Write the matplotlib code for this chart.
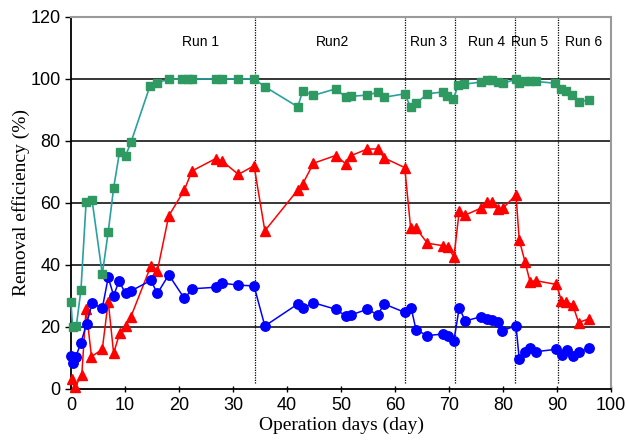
"""Removal efficiency over operation days, six runs."""

import matplotlib.pyplot as plt

# green squares (top series)
days_g = [0.0, 0.3, 1.0, 1.85, 2.8, 3.9, 5.8, 6.9, 7.9, 9.0, 10.1, 11.1,
          14.6, 16.0, 18.1, 20.6, 21.6, 22.5, 26.8, 28.0, 30.9, 33.9,
          35.9, 42.0, 42.9, 44.9, 49.0, 50.9, 51.9, 54.9, 56.8, 58.0, 61.8,
          62.9, 63.9, 66.0, 68.8, 69.7, 70.8, 71.7, 72.8, 75.9, 77.0, 77.9,
          79.1, 80.0, 82.4, 83.0, 84.1, 85.0, 86.1, 89.7, 90.8, 91.7, 92.8,
          94.0, 96.0]
eff_g = [28, 20, 20.4, 32, 60.2, 61, 37, 50.7, 64.8, 76.5, 75.2, 79.5,
         97.6, 98.8, 99.9, 100, 100, 100, 100, 100, 100, 100,
         97.5, 91, 96.1, 94.7, 96.8, 94.1, 94.4, 94.8, 95.7, 94.1, 95.2,
         90.8, 92.1, 95.2, 95.8, 94.6, 93.5, 98, 98.3, 99, 99.7, 99.5,
         98.9, 98.6, 99.9, 98.6, 99.2, 99.2, 99.2, 98.6, 96.7, 96.2, 94.8,
         92.7, 93.2]

# red triangles
days_r = [0.1, 0.7, 2.0, 2.8, 3.8, 5.8, 6.9, 7.9, 9.0, 10.1, 11.1, 14.8,
          16.0, 18.1, 21.0, 22.4, 26.8, 28.0, 31.0, 33.9, 35.9, 42.0, 42.9,
          44.9, 49.0, 50.9, 51.9, 54.9, 56.8, 58.0, 61.8, 62.9, 63.9, 66.0,
          68.9, 69.8, 70.9, 71.9, 73.0, 75.9, 77.0, 77.9, 79.0, 80.0, 82.4,
          83.0, 84.1, 85.0, 86.1, 89.9, 90.8, 91.7, 92.9, 94.0, 96.0]
eff_r = [3.1, 0.5, 4.5, 25.7, 10.4, 12.8, 28.2, 11.5, 17.9, 20.4, 23.3, 39.7,
         38.1, 55.8, 64.2, 70.3, 74.3, 73.5, 69.2, 72, 51, 64.2, 66.1,
         72.8, 75.3, 72.6, 75.3, 77.4, 77.4, 74.5, 71.4, 51.8, 51.8, 47,
         46.2, 45.9, 42.5, 57.5, 56.1, 58.3, 60.4, 60.4, 57.9, 58.3, 62.6,
         48.1, 40.8, 34.6, 34.9, 33.7, 28.5, 28.2, 27.1, 21.4, 22.7]

# blue circles
days_b = [0.0, 0.3, 0.9, 1.8, 2.9, 3.9, 5.8, 6.9, 7.9, 8.9, 10.1, 11.1, 14.8,
          16.0, 18.1, 21.0, 22.5, 26.8, 28.0, 31.0, 33.9, 35.9, 42.0, 42.9,
          44.9, 49.0, 50.9, 51.9, 54.9, 56.8, 58.0, 61.8, 63.0, 63.9, 66.0,
          68.8, 69.8, 70.9, 71.9, 73.0, 75.9, 77.0, 77.9, 79.0, 79.9, 82.4,
          83.0, 84.0, 85.0, 86.1, 89.9, 90.9, 91.9, 92.9, 94.0, 96.0]
eff_b = [10.6, 8.5, 10.4, 14.7, 21, 27.6, 26, 36, 30.1, 34.8, 30.8, 31.6, 35,
         30.8, 36.8, 29.2, 32.3, 32.8, 34.1, 33.5, 33.2, 20.3, 27.4, 26,
         27.8, 25.7, 23.5, 23.9, 25.7, 23.9, 27.4, 24.7, 26, 19, 17.2,
         17.7, 17.2, 15.6, 26.2, 21.9, 23.3, 22.5, 22.3, 21.7, 18.8, 20.4,
         9.7, 12, 13.1, 12, 12.8, 11, 12.4, 10.6, 11.8, 13.3]

run_bounds = [34.1, 61.9, 71.1, 82.2, 90.1]
run_names = ["Run 1", "Run2", "Run 3", "Run 4", "Run 5", "Run 6"]
run_label_x = [23.9, 48.5, 66.3, 77.0, 85.0, 95.0]

fig = plt.figure(figsize=(6.28, 4.46), dpi=100)
ax = fig.add_axes([0.113, 0.128, 0.860, 0.834])

for y in [20, 40, 60, 80, 100]:
    ax.axhline(y, color="black", lw=1.1, zorder=1)
for xb in run_bounds:
    ax.axvline(xb, ymin=0.015, ymax=1, color="black", lw=0.9,
               linestyle=(0, (1, 1)), zorder=1)

ax.plot(days_g, eff_g, "-", color="#2aa0a0", lw=1.2, zorder=3, clip_on=False)
ax.plot(days_g, eff_g, "s", color="#2e9a62", ms=6.3, zorder=4, clip_on=False)
ax.plot(days_r, eff_r, "-^", color="#ff0000", lw=1.1, ms=6.8, zorder=3,
        clip_on=False)
ax.plot(days_b, eff_b, "-o", color="#0000ff", lw=1.1, ms=6.8, zorder=3,
        clip_on=False)

for name, xl in zip(run_names, run_label_x):
    ax.text(xl, 112, name, ha="center", va="center", fontsize=10,
            family="Liberation Sans")

ax.set_xlim(0, 100)
ax.set_ylim(0, 120)
ax.set_xticks(range(0, 101, 10))
ax.set_yticks(range(0, 121, 20))
ax.tick_params(axis="both", labelsize=13, length=4, width=1)
ax.tick_params(axis="x", direction="inout")
for lab in ax.get_xticklabels() + ax.get_yticklabels():
    lab.set_family("Liberation Sans")

ax.spines["left"].set_linewidth(1.3)
ax.spines["bottom"].set_linewidth(1.3)
ax.spines["top"].set_color("#9a9a9a")
ax.spines["right"].set_color("#9a9a9a")
ax.spines["top"].set_linewidth(1.5)
ax.spines["right"].set_linewidth(1.5)

ax.set_xlabel("Operation days (day)", fontsize=14, family="Liberation Serif",
              labelpad=2)
ax.set_ylabel("Removal efficiency (%)", fontsize=14, family="Liberation Serif",
              labelpad=0)

fig.savefig("out.png", dpi=100)
